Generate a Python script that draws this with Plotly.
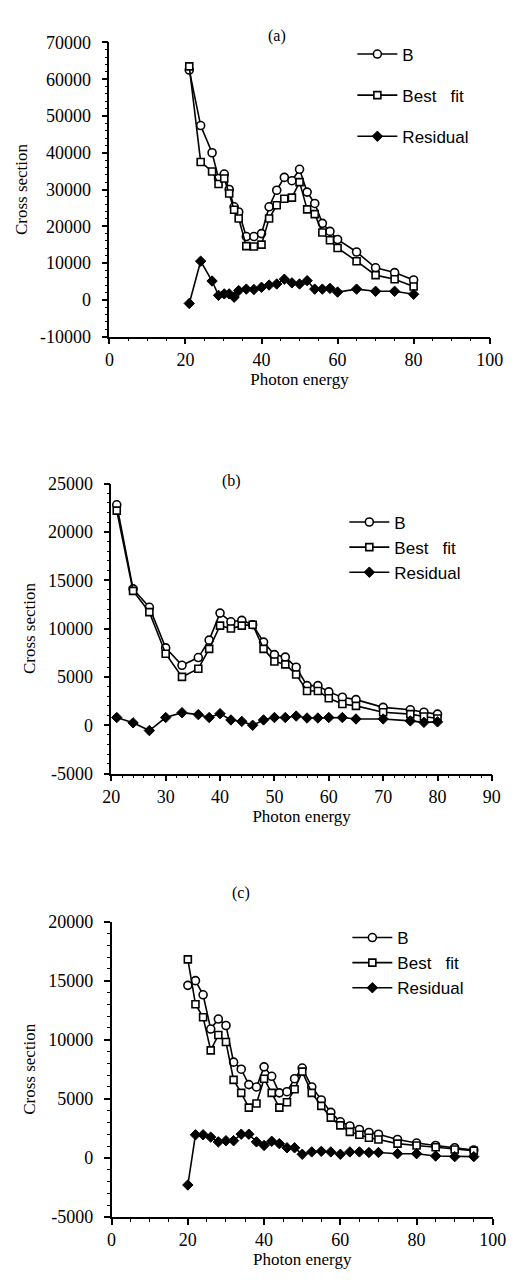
import plotly.graph_objects as go

# ---------------- data ----------------
# Panel (a)
energy_a = [21, 24, 27, 28.7, 30.2, 31.5, 32.8, 34, 36, 38, 40, 42, 44, 46, 48, 50,
            52, 54, 56, 58, 60, 65, 70, 75, 80]
b_a = [62500, 47400, 40000, 33000, 34200, 30000, 25300, 23900, 17200, 17200, 18000,
       25300, 29800, 33300, 32400, 35500, 29300, 26200, 20800, 18600, 16400, 13000,
       8700, 7400, 5400]
fit_a = [63500, 37500, 34900, 31500, 33000, 28900, 24500, 22100, 14600, 14500, 15000,
         22100, 25700, 27500, 27800, 32000, 24600, 23300, 18300, 16200, 14100, 10500,
         6700, 5600, 3600]
res_a = [-1000, 10500, 5100, 1200, 1600, 1600, 700, 2500, 2900, 2800, 3400, 4000,
         4300, 5600, 4600, 4300, 5200, 2900, 2900, 3100, 2100, 2900, 2300, 2300, 1500]

# Panel (b)
energy_b = [21, 24, 27, 30, 33, 36, 38, 40, 42, 44, 46, 48, 50, 52, 54, 56, 58, 60,
            62.5, 65, 70, 75, 77.5, 80]
b_b = [22800, 14100, 12200, 8000, 6200, 7000, 8800, 11600, 10700, 10850, 10400, 8600,
       7300, 7050, 6000, 4100, 4100, 3450, 2900, 2650, 1850, 1600, 1350, 1150]
fit_b = [22200, 13900, 11700, 7400, 5000, 5850, 7900, 10300, 10000, 10300, 10400, 7900,
         6600, 6300, 5250, 3550, 3550, 2800, 2200, 2000, 1350, 1150, 900, 700]
res_b = [800, 250, -550, 800, 1300, 1100, 800, 1200, 550, 400, 0, 550, 800, 800, 950,
         750, 750, 800, 800, 650, 650, 450, 300, 350]

# Panel (c)
energy_c = [20, 22, 24, 26, 28, 30, 32, 34, 36, 38, 40, 42, 44, 46, 48, 50, 52.5, 55,
            57.5, 60, 62.5, 65, 67.5, 70, 75, 80, 85, 90, 95]
b_c = [14600, 15000, 13800, 10900, 11750, 11200, 8100, 7500, 6200, 6000, 7700, 6900,
       5500, 5600, 6700, 7600, 6000, 4900, 3850, 3050, 2700, 2400, 2150, 2000, 1550,
       1250, 1050, 850, 650]
fit_c = [16800, 13000, 11900, 9100, 10400, 9800, 6600, 5500, 4250, 4600, 6700, 5500,
         4250, 4700, 5800, 7300, 5500, 4400, 3400, 2750, 2200, 1950, 1700, 1550, 1200,
         1050, 900, 700, 600]
res_c = [-2300, 1950, 1950, 1750, 1350, 1450, 1450, 2000, 2000, 1350, 1050, 1400, 1200,
         850, 850, 300, 500, 550, 500, 300, 500, 500, 450, 450, 350, 350, 150, 100, 100]

# Tick values and labels
yticks_a = [-10000, 0, 10000, 20000, 30000, 40000, 50000, 60000, 70000]
yticks_b = [-5000, 0, 5000, 10000, 15000, 20000, 25000]
yticks_c = [-5000, 0, 5000, 10000, 15000, 20000]
xticks_a = [0, 20, 40, 60, 80, 100]
xticks_b = [20, 30, 40, 50, 60, 70, 80, 90]
xticks_c = [0, 20, 40, 60, 80, 100]

panel_labels = ["(a)", "(b)", "(c)"]
series_names = ["B", "Best\u00a0\u00a0\u00a0fit", "Residual"]
x_title = "Photon energy"
y_title = "Cross section"


def labels(vals):
    return [str(v) for v in vals]  # plain hyphen-minus, no thousands separator


# ---------------- figure ----------------
W, H = 525, 1283
fig = go.Figure()

SERIF = "Liberation Serif, Times New Roman, serif"
SANS = "Liberation Sans, Arial, sans-serif"

panels = [
    dict(x=energy_a, ys=[b_a, fit_a, res_a], xr=[0, 100], yr=[-10000, 70000],
         xt=xticks_a, xminor=5, yt=yticks_a, yminor=2000,
         xpx=(105, 502.7), ypx=(33, 331.7), title_xy=(280, 15),
         leg=(0.684, 0.979), gap=16),
    dict(x=energy_b, ys=[b_b, fit_b, res_b], xr=[20, 90], yr=[-5000, 25000],
         xt=xticks_b, xminor=2, yt=yticks_b, yminor=1000,
         xpx=(107, 505), ypx=(481, 775.7), title_xy=(233, 478),
         leg=(0.668, 0.6085), gap=0),
    dict(x=energy_c, ys=[b_c, fit_c, res_c], xr=[0, 100], yr=[-5000, 20000],
         xt=xticks_c, xminor=5, yt=yticks_c, yminor=1000,
         xpx=(107.3, 506), ypx=(926, 1226), title_xy=(243, 908),
         leg=(0.674, 0.2795), gap=0),
]

markers = [
    dict(symbol="circle", size=8, color="white", line=dict(color="black", width=1.6)),
    dict(symbol="square", size=7, color="white", line=dict(color="black", width=1.6)),
    dict(symbol="diamond", size=8, color="black", line=dict(color="black", width=1)),
]

for i, p in enumerate(panels):
    n = "" if i == 0 else str(i + 1)
    legname = "legend" if i == 0 else f"legend{i + 1}"
    for j in range(3):
        fig.add_trace(go.Scatter(
            x=p["x"], y=p["ys"][j], mode="lines+markers",
            name=series_names[j],
            line=dict(color="black", width=1.6),
            marker=markers[j],
            xaxis="x" + n, yaxis="y" + n,
            legend=legname, legendgroup=f"g{i}{j}",
            cliponaxis=False, showlegend=True,
        ))

    x0, x1 = p["xpx"]
    yt, yb = p["ypx"]
    common = dict(showline=True, linecolor="black", linewidth=1.5, ticks="outside",
                  ticklen=6, tickwidth=1.5, tickcolor="black", showgrid=False,
                  zeroline=False, tickfont=dict(family=SERIF, size=18, color="black"),
                  title_font=dict(family=SERIF, size=17, color="black"))
    fig.update_layout(**{
        "xaxis" + n: dict(domain=[x0 / W, x1 / W], range=p["xr"],
                          tickmode="array", tickvals=p["xt"], ticktext=labels(p["xt"]),
                          anchor="y" + n,
                          minor=dict(dtick=p["xminor"], tick0=0, ticklen=3, tickwidth=1.2,
                                     ticks="outside", tickcolor="black", showgrid=False),
                          title=dict(text=x_title, standoff=0), **common),
        "yaxis" + n: dict(domain=[1 - yb / H, 1 - yt / H], range=p["yr"],
                          tickmode="array", tickvals=p["yt"], ticktext=labels(p["yt"]),
                          anchor="x" + n, ticklabelstandoff=7,
                          minor=dict(dtick=p["yminor"], tick0=0, ticklen=3, tickwidth=1.2,
                                     ticks="outside", tickcolor="black", showgrid=False),
                          title=dict(text=y_title, standoff=8), **common),
        legname: dict(x=p["leg"][0], y=p["leg"][1], xanchor="left", yanchor="top",
                      bgcolor="rgba(0,0,0,0)", borderwidth=0,
                      font=dict(family=SANS, size=17, color="black"),
                      tracegroupgap=p["gap"], itemwidth=40,
                      traceorder="grouped"),
    })
    fig.add_annotation(text=panel_labels[i], x=p["title_xy"][0] / W,
                       y=1 - p["title_xy"][1] / H, xref="paper", yref="paper",
                       showarrow=False, font=dict(family=SERIF, size=16, color="black"))

fig.update_layout(width=W, height=H, margin=dict(l=0, r=0, t=0, b=0),
                  paper_bgcolor="white", plot_bgcolor="white", showlegend=True)

fig.write_html("out.html")
